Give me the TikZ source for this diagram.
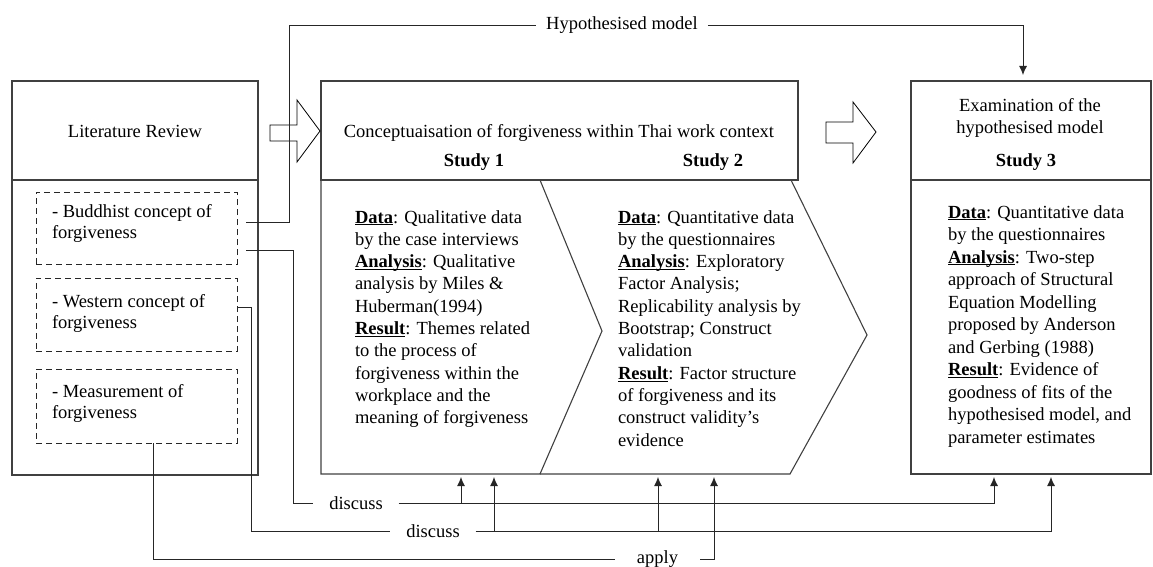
\documentclass[tikz,border=0pt]{standalone}
\usepackage{fontspec}
\setmainfont{Liberation Serif}
\usetikzlibrary{arrows.meta}
\newcommand\fs{\fontsize{18.5}{22.3}\selectfont}
\newcommand\myul[1]{\leavevmode\sbox0{\textbf{#1}}\rlap{\rule[-2.4pt]{\wd0}{1pt}}\usebox0}
\begin{document}
\begin{tikzpicture}[x=1pt,y=-1pt,
  box/.style={draw=black!75, line width=1.1pt, inner sep=0pt, outer sep=0pt, anchor=north west},
  boxl/.style={draw=black!75, line width=1.1pt},
  dbox/.style={draw=black!85, line width=0.9pt, dash pattern=on 6pt off 4pt, inner sep=0pt, outer sep=0pt, anchor=north west},
  conn/.style={draw=black!85, line width=0.9pt},
  arr/.style={conn, -{Latex[length=9pt,width=8pt]}},
  lbl/.style={inner ysep=0pt, outer sep=0pt, font=\fs},
  txt/.style={inner sep=0pt, outer sep=0pt, anchor=base west, font=\fs},
  hollow/.style={draw=black, line width=0.8pt, fill=white, line join=miter}]
\useasboundingbox (0,0) rectangle (1153,567);

% main boxes
\node[box, minimum width=246pt, minimum height=394pt] (lit) at (12,81) {};
\draw[boxl] (12,180) -- (258,180);
\node[box, minimum width=477pt, minimum height=99pt] (mid) at (321,81) {};
\draw[boxl] (321,180) -- (321,474) -- (540,474) -- (602,331) -- (540,180);
\draw[boxl] (791,180) -- (867,335) -- (790,474) -- (540,474);
\node[box, minimum width=240pt, minimum height=393pt] (s3) at (911,81) {};
\draw[boxl] (911,180) -- (1151,180);

% dashed boxes
\node[dbox, minimum width=201pt, minimum height=72pt] (bud) at (36,192) {};
\node[dbox, minimum width=201pt, minimum height=73pt] (wes) at (36,278) {};
\node[dbox, minimum width=201pt, minimum height=74pt] (mea) at (36,369) {};

% hollow arrows
\draw[hollow] (270,125) -- (297,125) -- (297,100) -- (320,131) -- (297,162) -- (297,141) -- (270,141) -- cycle;
\draw[hollow] (826,122) -- (853,122) -- (853,102) -- (876,132) -- (853,163) -- (853,143) -- (826,143) -- cycle;

% headers
\node[txt, anchor=base] (litT) at (135,137) {Literature Review};
\node[txt, anchor=base] (conT) at (559,137) {Conceptuaisation of forgiveness within Thai work context};
\node[txt, anchor=base] (st1) at (474,166) {\textbf{Study 1}};
\node[txt, anchor=base] (st2) at (713,166) {\textbf{Study 2}};
\node[txt, anchor=base] (st3) at (1026,166) {\textbf{Study 3}};
\node[txt, anchor=base] (exT) at (1030,112) {\parbox[t]{220pt}{\fontsize{18.5}{21}\selectfont\centering Examination of the\\hypothesised model}};

% dashed box texts
\node[txt] (budT) at (52,217) {\parbox[t]{190pt}{\fontsize{18.5}{21.3}\selectfont - Buddhist concept of\\forgiveness}};
\node[txt] (wesT) at (52,307) {\parbox[t]{190pt}{\fontsize{18.5}{21.3}\selectfont - Western concept of\\forgiveness}};
\node[txt] (meaT) at (52,397) {\parbox[t]{190pt}{\fontsize{18.5}{21.3}\selectfont - Measurement of\\forgiveness}};

% study bodies
\node[txt] (b1) at (355,223) {\parbox[t]{240pt}{\raggedright
\myul{Data}: Qualitative data\\
by the case interviews\\
\myul{Analysis}: Qualitative\\
analysis by Miles \&\\
Huberman(1994)\\
\myul{Result}: Themes related\\
to the process of\\
forgiveness within the\\
workplace and the\\
meaning of forgiveness}};
\node[txt] (b2) at (618,223) {\parbox[t]{240pt}{\raggedright
\myul{Data}: Quantitative data\\
by the questionnaires\\
\myul{Analysis}: Exploratory\\
Factor Analysis;\\
Replicability analysis by\\
Bootstrap; Construct\\
validation\\
\myul{Result}: Factor structure\\
of forgiveness and its\\
construct validity’s\\
evidence}};
\node[txt] (b3) at (948,218) {\parbox[t]{240pt}{\fontsize{18.5}{22.5}\selectfont\raggedright
\myul{Data}: Quantitative data\\
by the questionnaires\\
\myul{Analysis}: Two-step\\
approach of Structural\\
Equation Modelling\\
proposed by Anderson\\
and Gerbing (1988)\\
\myul{Result}: Evidence of\\
goodness of fits of the\\
hypothesised model, and\\
parameter estimates}};

% labels
\node[lbl, inner xsep=10pt] (hyp) at (622,25) {Hypothesised model};
\node[lbl, inner xsep=16pt] (d1) at (356,503) {discuss};
\node[lbl, inner xsep=16pt] (d2) at (433,531) {discuss};
\node[lbl, inner xsep=22pt] (ap) at (657.5,559) {apply};

% connector ends
\coordinate (h0) at (246,222);
\coordinate (h3) at (1023,75);
\coordinate (c1) at (246,250);
\coordinate (c2) at (237,307);
\coordinate (c3) at (153,443);
\coordinate (a1) at (461,477);
\coordinate (a2) at (494,477);
\coordinate (a3) at (658,477);
\coordinate (a4) at (994,477);
\coordinate (a5) at (1051,477);
\coordinate (a6) at (714,477);

% hypothesised model
\draw[conn] (h0) -- ++(43,0) |- (hyp.west);
\draw[arr] (hyp.east) -| (h3);

% discuss 1
\draw[conn] (c1) -- ++(47,0) |- (d1.west);
\draw[arr] (d1.east) -| (a4);
\draw[arr] (d1.east -| a1) -- (a1);

% discuss 2
\draw[conn] (c2) -- ++(14,0) |- (d2.west);
\draw[arr] (d2.east) -| (a5);
\draw[arr] (d2.east -| a2) -- (a2);
\draw[arr] (d2.east -| a3) -- (a3);

% apply
\draw[conn] (c3) |- (ap.west);
\draw[arr] (ap.east) -| (a6);
\end{tikzpicture}
\end{document}
